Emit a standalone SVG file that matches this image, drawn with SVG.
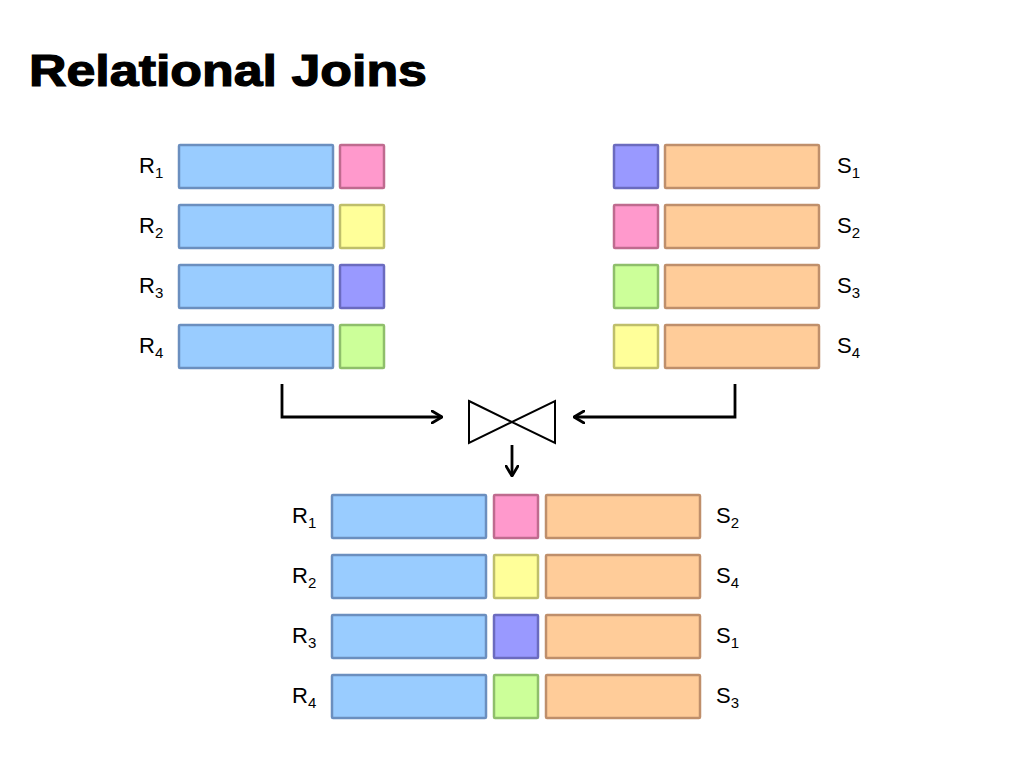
<svg xmlns="http://www.w3.org/2000/svg" width="1024" height="768" viewBox="0 0 1024 768">
<defs>
<marker id="arr" viewBox="0 0 12 14" refX="11" refY="7" markerWidth="12" markerHeight="14" markerUnits="userSpaceOnUse" orient="auto">
<path d="M1,1 L11,7 L1,13" fill="none" stroke="#000" stroke-width="2.8" stroke-linecap="round" stroke-linejoin="round"/>
</marker>
</defs>
<style>
.b{fill:#99ccff;stroke:#6b8fbf;stroke-width:2.5}
.o{fill:#ffcc99;stroke:#bf8f6b;stroke-width:2.5}
.pk{fill:#ff99cc;stroke:#bf6b8f;stroke-width:2.5}
.y{fill:#ffff99;stroke:#bfbf6b;stroke-width:2.5}
.pu{fill:#9999ff;stroke:#6b6bbf;stroke-width:2.5}
.g{fill:#ccff99;stroke:#8fbf6b;stroke-width:2.5}
.lb{font-family:"Liberation Sans",Arial,sans-serif;font-size:22px;fill:#000}
.sub{font-size:15px}
.c{fill:none;stroke:#000;stroke-width:2.8}
</style>
<rect width="1024" height="768" fill="#fff"/>
<text x="29" y="86" font-family="Liberation Sans,Arial,sans-serif" font-weight="bold" font-size="44" stroke="#000" stroke-width="1.2" textLength="398" lengthAdjust="spacingAndGlyphs">Relational Joins</text>

<g id="R1"><text class="lb" x="139" y="173">R<tspan class="sub" dy="5">1</tspan></text><rect class="b" x="179" y="145" width="154" height="43" rx="1"/><rect class="pk" x="340" y="145" width="44" height="43" rx="1"/></g>
<g id="R2"><text class="lb" x="139" y="233">R<tspan class="sub" dy="5">2</tspan></text><rect class="b" x="179" y="205" width="154" height="43" rx="1"/><rect class="y" x="340" y="205" width="44" height="43" rx="1"/></g>
<g id="R3"><text class="lb" x="139" y="293">R<tspan class="sub" dy="5">3</tspan></text><rect class="b" x="179" y="265" width="154" height="43" rx="1"/><rect class="pu" x="340" y="265" width="44" height="43" rx="1"/></g>
<g id="R4"><text class="lb" x="139" y="353">R<tspan class="sub" dy="5">4</tspan></text><rect class="b" x="179" y="325" width="154" height="43" rx="1"/><rect class="g" x="340" y="325" width="44" height="43" rx="1"/></g>

<g id="S1"><rect class="pu" x="614" y="145" width="44" height="43" rx="1"/><rect class="o" x="665" y="145" width="154" height="43" rx="1"/><text class="lb" x="837" y="173">S<tspan class="sub" dy="5">1</tspan></text></g>
<g id="S2"><rect class="pk" x="614" y="205" width="44" height="43" rx="1"/><rect class="o" x="665" y="205" width="154" height="43" rx="1"/><text class="lb" x="837" y="233">S<tspan class="sub" dy="5">2</tspan></text></g>
<g id="S3"><rect class="g" x="614" y="265" width="44" height="43" rx="1"/><rect class="o" x="665" y="265" width="154" height="43" rx="1"/><text class="lb" x="837" y="293">S<tspan class="sub" dy="5">3</tspan></text></g>
<g id="S4"><rect class="y" x="614" y="325" width="44" height="43" rx="1"/><rect class="o" x="665" y="325" width="154" height="43" rx="1"/><text class="lb" x="837" y="353">S<tspan class="sub" dy="5">4</tspan></text></g>

<g id="join"><path d="M469,401 L555,443 L555,401 L469,443 Z" fill="none" stroke="#000" stroke-width="2" stroke-linejoin="miter"/></g>

<g id="connectors">
<path class="c" d="M282,384 V417 H442" marker-end="url(#arr)"/>
<path class="c" d="M735,384 V417 H574" marker-end="url(#arr)"/>
<path class="c" d="M512,445 V476" marker-end="url(#arr)"/>
</g>

<g id="T1"><text class="lb" x="292" y="523">R<tspan class="sub" dy="5">1</tspan></text><rect class="b" x="332" y="495" width="154" height="43" rx="1"/><rect class="pk" x="494" y="495" width="44" height="43" rx="1"/><rect class="o" x="546" y="495" width="154" height="43" rx="1"/><text class="lb" x="716" y="523">S<tspan class="sub" dy="5">2</tspan></text></g>
<g id="T2"><text class="lb" x="292" y="583">R<tspan class="sub" dy="5">2</tspan></text><rect class="b" x="332" y="555" width="154" height="43" rx="1"/><rect class="y" x="494" y="555" width="44" height="43" rx="1"/><rect class="o" x="546" y="555" width="154" height="43" rx="1"/><text class="lb" x="716" y="583">S<tspan class="sub" dy="5">4</tspan></text></g>
<g id="T3"><text class="lb" x="292" y="643">R<tspan class="sub" dy="5">3</tspan></text><rect class="b" x="332" y="615" width="154" height="43" rx="1"/><rect class="pu" x="494" y="615" width="44" height="43" rx="1"/><rect class="o" x="546" y="615" width="154" height="43" rx="1"/><text class="lb" x="716" y="643">S<tspan class="sub" dy="5">1</tspan></text></g>
<g id="T4"><text class="lb" x="292" y="703">R<tspan class="sub" dy="5">4</tspan></text><rect class="b" x="332" y="675" width="154" height="43" rx="1"/><rect class="g" x="494" y="675" width="44" height="43" rx="1"/><rect class="o" x="546" y="675" width="154" height="43" rx="1"/><text class="lb" x="716" y="703">S<tspan class="sub" dy="5">3</tspan></text></g>
</svg>
